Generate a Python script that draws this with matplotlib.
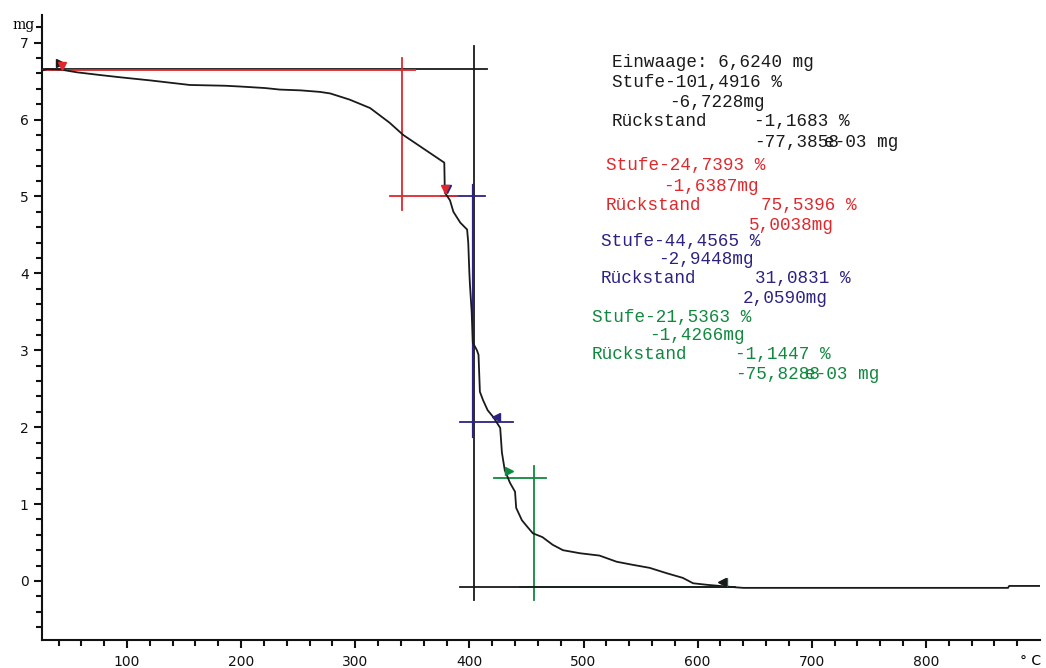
import matplotlib
matplotlib.use("Agg")
import matplotlib.pyplot as plt
import numpy as np
from matplotlib import font_manager

# ---------------- data ----------------
temp_c = [26, 30, 42, 56, 76, 94, 120, 155, 186, 199, 221, 234, 252, 269, 278, 295,
          313, 330, 342, 357, 372, 378, 378.5, 383, 386, 392, 398, 399, 400, 400.5,
          402, 403, 406.6, 408, 409.2, 412, 416, 421, 427, 428.5, 431, 435.6, 440,
          441, 446, 451, 455.6, 464, 473, 482, 497, 514, 529, 543, 558, 573, 587,
          596, 608, 631, 640, 872, 873, 900]
mass_mg = [6.64, 6.655, 6.65, 6.615, 6.58, 6.55, 6.51, 6.45, 6.44, 6.43, 6.41, 6.39,
           6.38, 6.36, 6.34, 6.26, 6.15, 5.96, 5.80, 5.65, 5.50, 5.44, 5.05, 4.95,
           4.80, 4.66, 4.57, 4.40, 4.00, 3.85, 3.50, 3.10, 3.00, 2.94, 2.46, 2.35,
           2.22, 2.13, 1.99, 1.67, 1.44, 1.275, 1.16, 0.95, 0.79, 0.70, 0.62, 0.57,
           0.47, 0.40, 0.36, 0.33, 0.25, 0.21, 0.17, 0.10, 0.04, -0.03, -0.05, -0.08,
           -0.09, -0.09, -0.065, -0.065]

# evaluation (step) construction lines: (x0, x1, y0, y1)
black_lines = [(25.5, 415.4, 6.66, 6.66), (404.0, 404.0, 6.96, -0.25), (392, 633, -0.08, -0.08)]
red_lines = [(25.5, 352, 6.645, 6.645), (341, 341, 6.80, 4.83), (330, 389, 5.01, 5.01)]
blue_lines = [(375, 414, 5.01, 5.01), (402.9, 402.9, 5.15, 1.87), (392, 438, 2.07, 2.07)]
green_lines = [(444, 630, -0.075, -0.075), (421.5, 467, 1.34, 1.34), (456.6, 456.6, 1.50, -0.25)]

# step markers: (T, m, marker, colour)
markers = [(41.3, 6.73, '>', 'black'), (42.8, 6.70, 'v', 'red'),
           (380.0, 5.10, 'v', 'navy'), (378.5, 5.10, 'v', 'red'),
           (423.3, 2.13, '<', 'navy'), (434.7, 1.43, '>', 'green'),
           (622, -0.01, '<', 'green'), (621, -0.01, '<', 'black')]

# annotation texts: (T, m, text, colour)
texts = [
    (524.9, 6.74, "Einwaage: 6,6240 mg", 'black'),
    (524.9, 6.48, "Stufe-101,4916 %", 'black'),
    (574.9, 6.22, "-6,7228mg", 'black'),
    (524.9, 5.97, "Rückstand", 'black'),
    (649.3, 5.97, "-1,1683 %", 'black'),
    (649.3, 5.70, "-77,3858", 'black'),
    (710.5, 5.70, "e-03 mg", 'black'),
    (519.6, 5.40, "Stufe-24,7393 %", 'red'),
    (569.6, 5.13, "-1,6387mg", 'red'),
    (519.6, 4.88, "Rückstand", 'red'),
    (655.4, 4.88, "75,5396 %", 'red'),
    (644.9, 4.62, "5,0038mg", 'red'),
    (515.3, 4.41, "Stufe-44,4565 %", 'navy'),
    (565.2, 4.18, "-2,9448mg", 'navy'),
    (515.3, 3.93, "Rückstand", 'navy'),
    (650.2, 3.93, "31,0831 %", 'navy'),
    (639.7, 3.67, "2,0590mg", 'navy'),
    (507.4, 3.43, "Stufe-21,5363 %", 'green'),
    (557.3, 3.19, "-1,4266mg", 'green'),
    (507.4, 2.94, "Rückstand", 'green'),
    (632.7, 2.94, "-1,1447 %", 'green'),
    (632.7, 2.68, "-75,8288", 'green'),
    (693.9, 2.68, "e-03 mg", 'green'),
]

y_major = [0, 1, 2, 3, 4, 5, 6, 7]
x_major = [100, 200, 300, 400, 500, 600, 700, 800]

colours = {'black': '#1a1a1a', 'red': '#e0282c', 'navy': '#2c2380', 'green': '#10883e'}

# ---------------- plot ----------------
available = {f.name for f in font_manager.fontManager.ttflist}
mono = 'Liberation Mono' if 'Liberation Mono' in available else 'DejaVu Sans Mono'

fig = plt.figure(figsize=(10.46, 6.68), dpi=100)
ax = fig.add_axes([42 / 1046, 28 / 668, (1040 - 42) / 1046, (640 - 15) / 668])
ax.set_xlim(25.5, 900)
ax.set_ylim(-0.768, 7.36)

for x0, x1, y0, y1 in green_lines:
    ax.plot([x0, x1], [y0, y1], color=colours['green'], lw=1.3, zorder=2)
for x0, x1, y0, y1 in black_lines:
    ax.plot([x0, x1], [y0, y1], color=colours['black'], lw=1.3, zorder=3)
for x0, x1, y0, y1 in blue_lines:
    ax.plot([x0, x1], [y0, y1], color=colours['navy'], lw=1.6 if x0 == x1 else 1.3, zorder=3)
for x0, x1, y0, y1 in red_lines:
    ax.plot([x0, x1], [y0, y1], color=colours['red'], lw=1.3, zorder=4)

ax.plot(temp_c, mass_mg, color=colours['black'], lw=1.3, zorder=5)

for t, m, mk, c in markers:
    ax.plot([t], [m], marker=mk, color=colours[c], markersize=6, linestyle='none', zorder=6)

for t, m, s, c in texts:
    ax.text(t, m, s, color=colours[c], fontsize=12.7, family=mono, ha='left', va='center')

# axes styling
for side in ['top', 'right']:
    ax.spines[side].set_visible(False)
for side in ['left', 'bottom']:
    ax.spines[side].set_linewidth(1.5)
    ax.spines[side].set_color('#111111')

ax.set_xticks(x_major)
ax.set_xticklabels([str(v) for v in x_major])
ax.set_xticks(np.arange(40, 881, 20), minor=True)
ax.set_yticks(y_major)
ax.set_yticklabels([str(v) for v in y_major])
ax.set_yticks(np.arange(-0.6, 7.21, 0.2), minor=True)
ax.tick_params(axis='both', which='major', direction='out', length=5.5, width=1.5,
               labelsize=10, colors='#111111')
ax.tick_params(axis='both', which='minor', direction='out', length=4.5, width=1.5,
               colors='#111111')
ax.tick_params(axis='x', which='major', pad=5)
ax.tick_params(axis='y', which='major', pad=4)

fig.text(12 / 1046, 1 - 25 / 668, "mg", fontsize=10, family='DejaVu Serif',
         ha='left', va='center')
fig.text(1020 / 1046, 1 - 661 / 668, "° C", fontsize=10, ha='left', va='center')

fig.savefig("out.png", dpi=100)
